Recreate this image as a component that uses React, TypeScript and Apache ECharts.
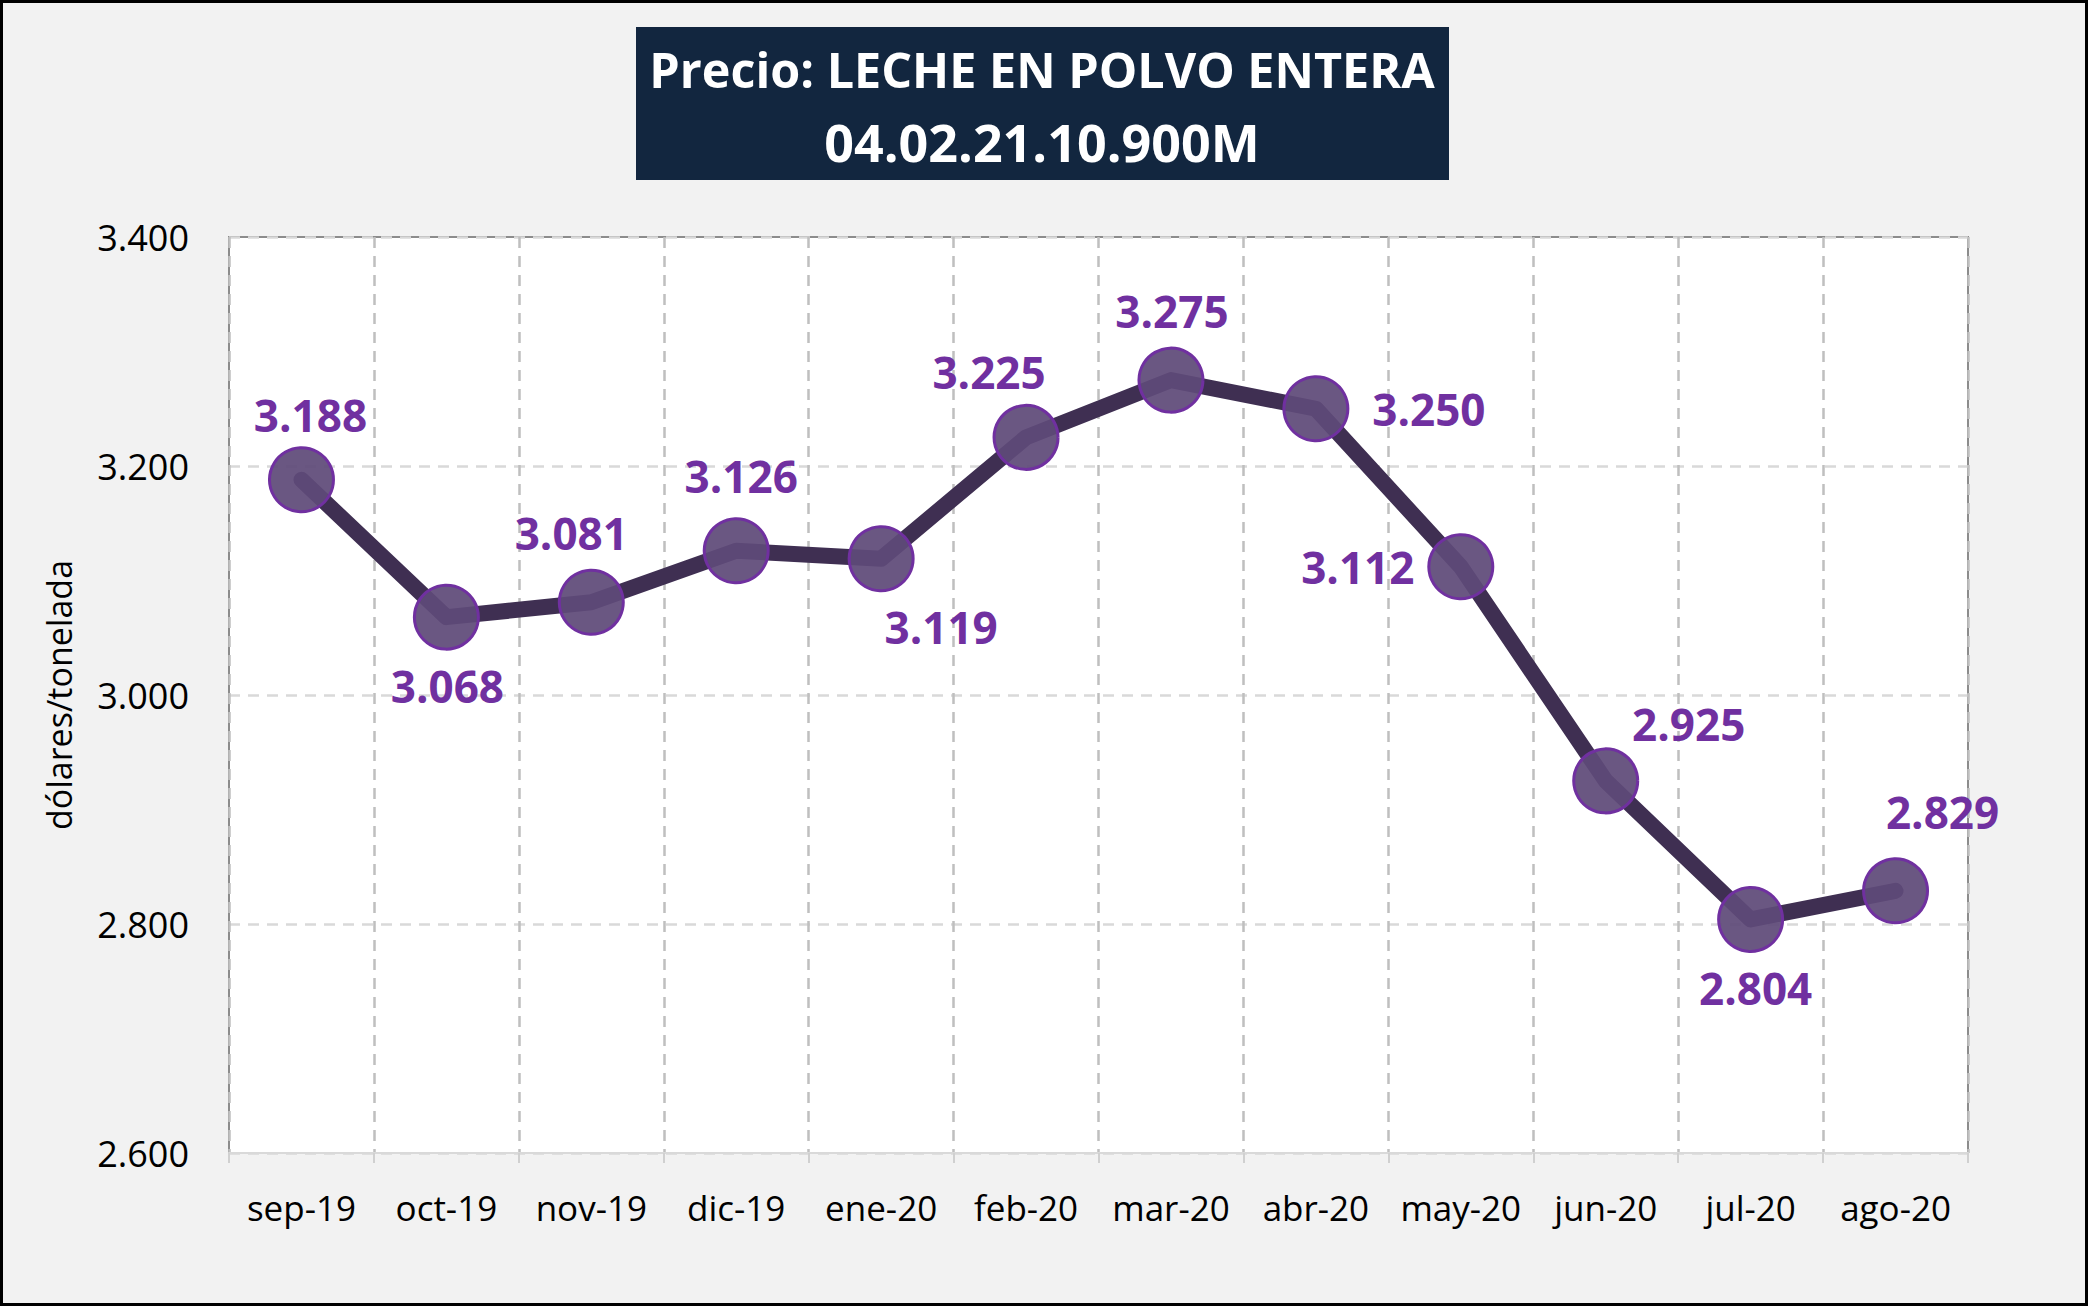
import React, { useEffect, useRef } from "react";
import * as echarts from "echarts";

const categories = ["sep-19", "oct-19", "nov-19", "dic-19", "ene-20", "feb-20", "mar-20", "abr-20", "may-20", "jun-20", "jul-20", "ago-20"];
const prices = [3188, 3068, 3081, 3126, 3119, 3225, 3275, 3250, 3112, 2925, 2804, 2829];
const labelOffsets = [[9, -65], [1, 69], [-20, -69], [5, -75], [60, 68], [-37, -65], [1, -69], [113, 0], [-103, 0], [83, -57], [5, 69], [47, -79]];
const titleLines = ["Precio: LECHE EN POLVO ENTERA", "04.02.21.10.900M"];
const yAxisName = "dólares/tonelada";
const yMin = 2600;
const yMax = 3400;
const yStep = 200;

const fmt = (v: number) => (v / 1000).toFixed(3);

export default function App() {
  const ref = useRef<HTMLDivElement>(null);
  useEffect(() => {
    document.body.style.margin = "0";
    const chart = echarts.init(ref.current!, null, { renderer: "svg" });
    chart.setOption({
      animation: false,
      backgroundColor: "#f2f2f2",
      textStyle: { fontFamily: "Open Sans" },
      grid: {
        left: 229,
        right: 120,
        top: 237,
        bottom: 153,
        show: true,
        backgroundColor: "#ffffff",
        borderColor: "#8c8c8c",
        borderWidth: 2,
      },
      graphic: [
        {
          type: "rect",
          shape: { x: 1.5, y: 1.5, width: 2085, height: 1303 },
          style: { fill: "none", stroke: "#000000", lineWidth: 3 },
          z: 100,
        },
        {
          type: "rect",
          shape: { x: 636, y: 27, width: 813, height: 153 },
          style: { fill: "#12263f" },
          z: 100,
        },
        {
          type: "text",
          x: 1042,
          y: 69,
          z: 101,
          style: {
            text: titleLines[0],
            fill: "#ffffff",
            font: "bold 48.5px 'Open Sans'",
            textAlign: "center",
            textVerticalAlign: "middle",
          },
        },
        {
          type: "text",
          x: 1042,
          y: 141,
          z: 101,
          style: {
            text: titleLines[1],
            fill: "#ffffff",
            font: "bold 52px 'Open Sans'",
            textAlign: "center",
            textVerticalAlign: "middle",
          },
        },
      ],
      xAxis: {
        type: "category",
        data: categories,
        boundaryGap: true,
        axisLine: { show: true, lineStyle: { color: "#d9d9d9", width: 2 } },
        axisTick: { show: true, length: 10, interval: 0, lineStyle: { color: "#d0d0d0", width: 2 } },
        axisLabel: { color: "#000000", fontSize: 35, margin: 37, interval: 0, fontFamily: "Open Sans" },
        splitLine: { show: true, interval: 0, lineStyle: { color: "#bfbfbf", width: 2.5, type: [11, 8] } },
      },
      yAxis: {
        type: "value",
        min: yMin,
        max: yMax,
        interval: yStep,
        name: yAxisName,
        nameLocation: "middle",
        nameGap: 153,
        nameRotate: 90,
        nameTextStyle: { color: "#000000", fontSize: 34, fontFamily: "Open Sans" },
        axisLine: { show: false },
        axisTick: { show: false },
        axisLabel: { color: "#000000", fontSize: 36, margin: 40, formatter: (v: number) => fmt(v), fontFamily: "Open Sans" },
        splitLine: { show: true, lineStyle: { color: "#d9d9d9", width: 2.5, type: [11, 8] } },
      },
      series: [
        {
          type: "line",
          data: prices.map((v, i) => ({ value: v, label: { offset: labelOffsets[i] } })),
          lineStyle: { color: "#3f2f52", width: 16, cap: "round", join: "round" },
          symbol: "circle",
          symbolSize: 64,
          itemStyle: { color: "rgba(95,74,121,0.93)", borderColor: "#7030a0", borderWidth: 3 },
          label: {
            show: true,
            position: "inside",
            align: "center",
            verticalAlign: "middle",
            color: "#7030a0",
            fontSize: 44,
            fontWeight: "bold",
            fontFamily: "Open Sans",
            formatter: (p: any) => fmt(p.value),
          },
          z: 5,
        },
      ],
    });
    return () => chart.dispose();
  }, []);
  return <div ref={ref} style={{ width: 2088, height: 1306 }} />;
}
